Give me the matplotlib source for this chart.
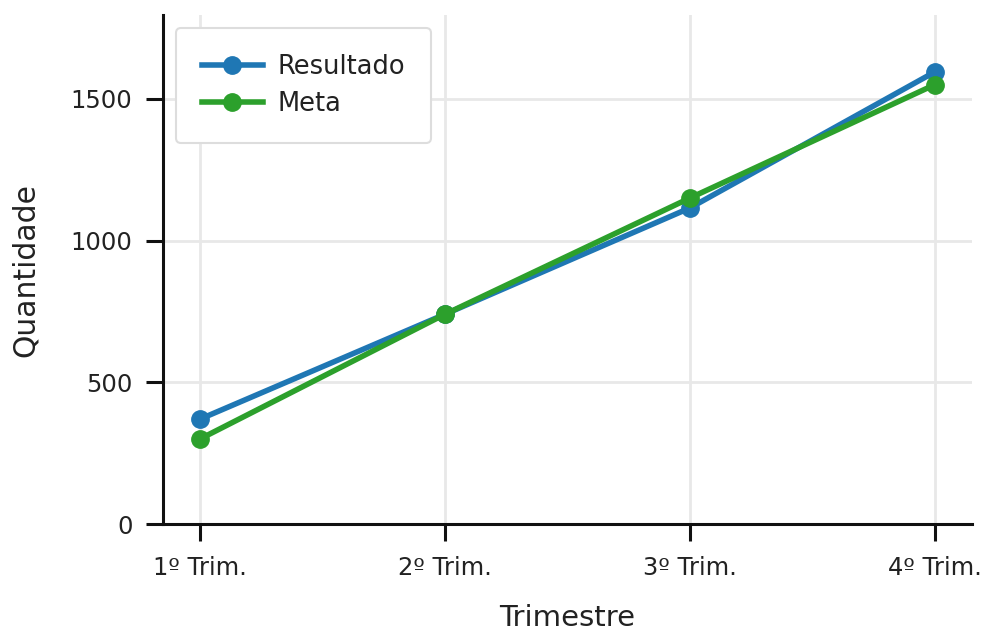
import matplotlib
matplotlib.use("Agg")
import matplotlib.pyplot as plt

trimestres = ["1º Trim.", "2º Trim.", "3º Trim.", "4º Trim."]
resultado = [370, 740, 1115, 1595]
meta = [300, 740, 1150, 1550]

plt.rcParams['font.family'] = 'DejaVu Sans'

fig = plt.figure(figsize=(9.85, 6.3), dpi=100)
ax = fig.add_axes([0.1655, 0.168, 0.821, 0.808])

x = range(len(trimestres))
ax.plot(x, resultado, marker="o", color="#1f77b4", lw=4, ms=12.5, label="Resultado")
ax.plot(x, meta, marker="o", color="#2ca02c", lw=4, ms=12.5, label="Meta")

ax.set_xticks(list(x))
ax.set_xticklabels(trimestres)
ax.set_xlim(-0.15, 3.15)
ax.set_ylim(0, 1795)
ax.set_yticks([0, 500, 1000, 1500])

ax.grid(True, color="#e8e8e8", lw=2)
ax.set_axisbelow(True)
for s in ["top", "right"]:
    ax.spines[s].set_visible(False)
for s in ["left", "bottom"]:
    ax.spines[s].set_linewidth(2.2)
    ax.spines[s].set_color("#111111")
ax.tick_params(which="both", direction="out", length=12, width=2.2, labelsize=17.5,
               color="#111111", labelcolor="#222222")
ax.tick_params(axis="y", pad=10)
ax.tick_params(axis="x", pad=11)

ax.set_xlabel("Trimestre", fontsize=21, labelpad=17, color="#222222")
ax.set_ylabel("Quantidade", fontsize=21.5, labelpad=22, color="#222222")

leg = ax.legend(loc="upper left", fontsize=18.5, borderpad=1.0, handlelength=2.4,
                handletextpad=0.55, labelspacing=0.45, frameon=True, fancybox=True,
                framealpha=1.0)
leg.get_frame().set_edgecolor("#dddddd")
leg.get_frame().set_linewidth(1.5)
for t in leg.get_texts():
    t.set_color("#222222")

fig.savefig("out.png", dpi=100)
